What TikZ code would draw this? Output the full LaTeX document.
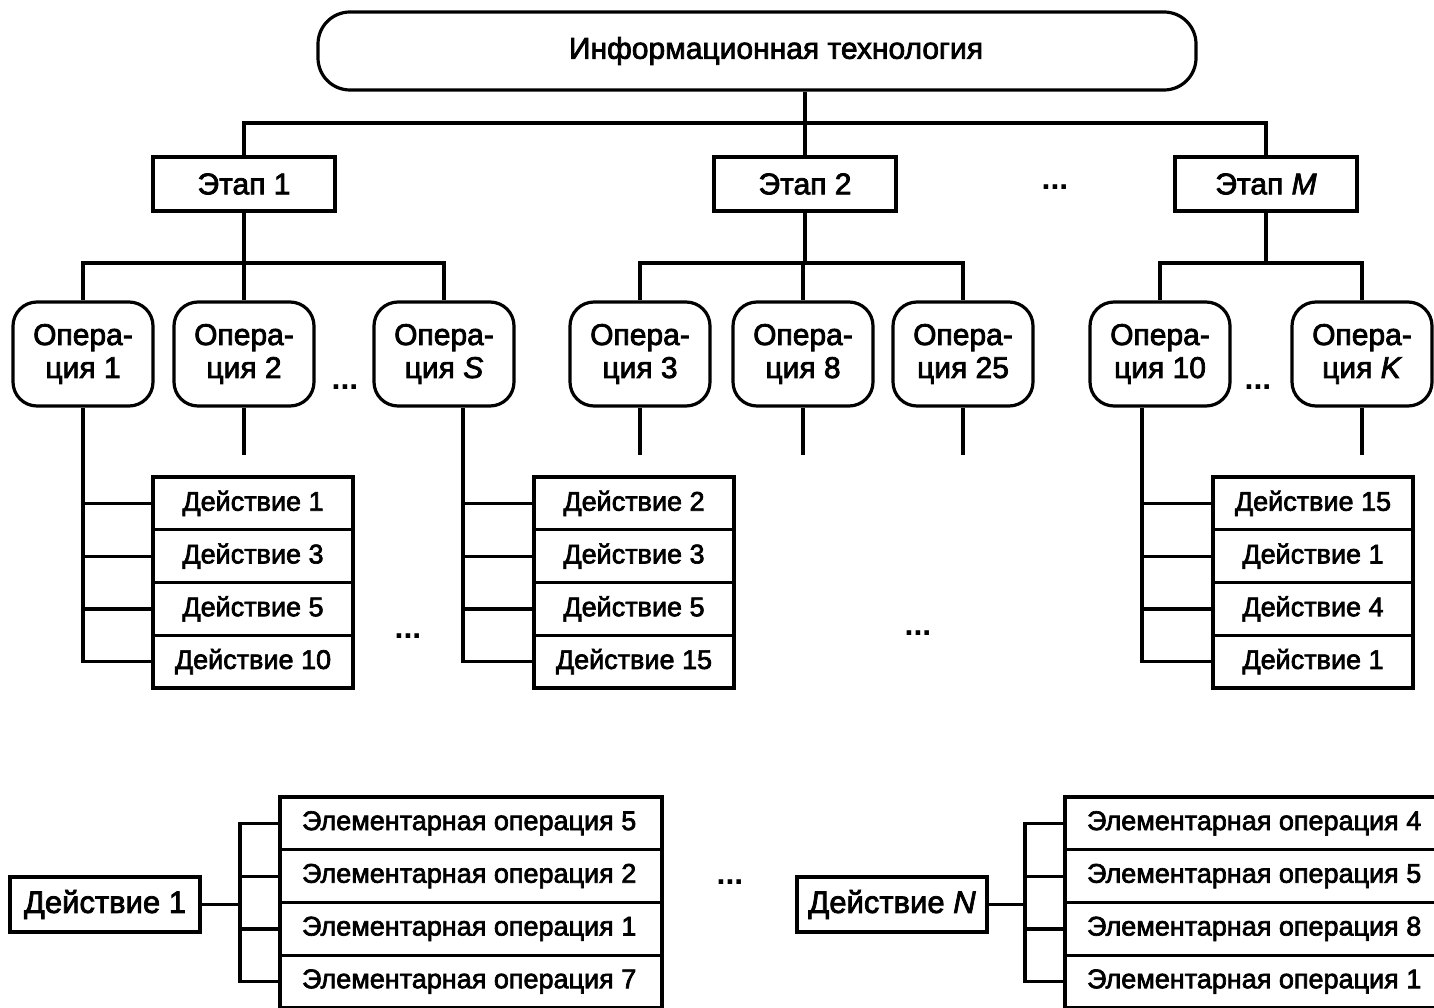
\documentclass[tikz,border=0pt]{standalone}
\usepackage{fontspec}
\setmainfont{Liberation Sans}[BoldFont={Liberation Sans},BoldFeatures={FakeBold=2.5},BoldItalicFont={Liberation Sans Italic},BoldItalicFeatures={FakeBold=2.5}]
\newfontfamily\dotsfont{Liberation Sans Bold}
\begin{document}
\bfseries
\begin{tikzpicture}[x=1pt,y=-1pt,
  conn/.style={line width=3.2pt},
  topbox/.style={draw,line width=3.2pt,rounded corners=32pt,minimum width=878pt,minimum height=78pt,inner sep=0pt,font=\fontsize{30}{33}\selectfont},
  stagebox/.style={draw,line width=3.2pt,minimum width=182pt,minimum height=54pt,inner sep=0pt,font=\fontsize{30}{33}\selectfont},
  opbox/.style={draw,line width=3.2pt,rounded corners=24pt,minimum width=140pt,minimum height=104pt,inner sep=0pt,align=center,font=\fontsize{30}{33}\selectfont},
  actbox/.style={draw,line width=3.2pt,minimum width=200pt,minimum height=52.75pt,inner sep=0pt,font=\fontsize{27}{30}\selectfont},
  actbig/.style={draw,line width=3.2pt,minimum width=190pt,minimum height=55pt,inner sep=0pt,font=\fontsize{31}{34}\selectfont},
  elbox/.style={draw,line width=3.2pt,minimum height=52.75pt,inner sep=0pt,font=\fontsize{27}{30}\selectfont},
  dotsnode/.style={inner sep=0pt,font=\dotsfont\fontsize{32}{32}\selectfont}
]
\useasboundingbox (0,0) rectangle (1434,1008);

% top
\node[topbox] (it) at (757,51) {\hspace*{38pt}Информационная технология};
\node[stagebox] (s1) at (244,184) {Этап 1};
\node[stagebox] (s2) at (805,184) {Этап 2};
\node[stagebox] (sM) at (1266,184) {Этап \textit{M}};
\node[dotsnode] (dM) at (1055,187) {...};

\coordinate (busT) at (0,123);
\draw[conn] (s2.north |- it.south) -- (s2.north);
\draw[conn] (s1.north) -- (s1.north |- busT) -- (sM.north |- busT) -- (sM.north);

% operations
\node[opbox] (o1) at (83,354) {Опера-\\ция 1};
\node[opbox] (o2) at (244,354) {Опера-\\ция 2};
\node[opbox] (oS) at (444,354) {Опера-\\ция \textit{S}};
\node[opbox] (o3) at (640,354) {Опера-\\ция 3};
\node[opbox] (o8) at (803,354) {Опера-\\ция 8};
\node[opbox] (o25) at (963,354) {Опера-\\ция 25};
\node[opbox] (o10) at (1160,354) {Опера-\\ция 10};
\node[opbox] (oK) at (1362,354) {Опера-\\ция \textit{K}};
\node[dotsnode] (dS) at (345,387) {...};
\node[dotsnode] (dK) at (1258,387) {...};

\coordinate (busO) at (0,263);
\draw[conn] (s1.south) -- (s1.south |- busO);
\draw[conn] (o1.north) -- (o1.north |- busO) -- (oS.north |- busO) -- (oS.north);
\draw[conn] (o2.north) -- (o2.north |- busO);
\draw[conn] (s2.south) -- (s2.south |- busO);
\draw[conn] (o3.north) -- (o3.north |- busO) -- (o25.north |- busO) -- (o25.north);
\draw[conn] (o8.north) -- (o8.north |- busO);
\draw[conn] (sM.south) -- (sM.south |- busO);
\draw[conn] (o10.north) -- (o10.north |- busO) -- (oK.north |- busO) -- (oK.north);

% stubs
\coordinate (e2) at ([yshift=-47pt]o2.south);
\coordinate (e3) at ([yshift=-47pt]o3.south);
\coordinate (e8) at ([yshift=-47pt]o8.south);
\coordinate (e25) at ([yshift=-47pt]o25.south);
\coordinate (eK) at ([yshift=-47pt]oK.south);
\draw[conn] (o2.south) -- (e2);
\draw[conn] (o3.south) -- (e3);
\draw[conn] (o8.south) -- (e8);
\draw[conn] (o25.south) -- (e25);
\draw[conn] (oK.south) -- (eK);

% action lists
\node[actbox] (a11) at (253,503.4) {Действие 1};
\node[actbox] (a12) at (253,556.1) {Действие 3};
\node[actbox] (a13) at (253,608.9) {Действие 5};
\node[actbox] (a14) at (253,661.6) {Действие 10};
\node[actbox] (a21) at (634,503.4) {Действие 2};
\node[actbox] (a22) at (634,556.1) {Действие 3};
\node[actbox] (a23) at (634,608.9) {Действие 5};
\node[actbox] (a24) at (634,661.6) {Действие 15};
\node[actbox] (a31) at (1313,503.4) {Действие 15};
\node[actbox] (a32) at (1313,556.1) {Действие 1};
\node[actbox] (a33) at (1313,608.9) {Действие 4};
\node[actbox] (a34) at (1313,661.6) {Действие 1};
\node[dotsnode] (dA1) at (408,636) {...};
\node[dotsnode] (dA2) at (918,633) {...};

\coordinate (t1) at (o1.south);
\coordinate (tS) at ([xshift=19pt]oS.south);
\coordinate (t10) at ([xshift=-18pt]o10.south);
\draw[conn] (t1) -- (t1 |- a14.west) -- (a14.west);
\draw[conn] (t1 |- a11.west) -- (a11.west);
\draw[conn] (t1 |- a12.west) -- (a12.west);
\draw[conn] (t1 |- a13.west) -- (a13.west);
\draw[conn] (tS) -- (tS |- a24.west) -- (a24.west);
\draw[conn] (tS |- a21.west) -- (a21.west);
\draw[conn] (tS |- a22.west) -- (a22.west);
\draw[conn] (tS |- a23.west) -- (a23.west);
\draw[conn] (t10) -- (t10 |- a34.west) -- (a34.west);
\draw[conn] (t10 |- a31.west) -- (a31.west);
\draw[conn] (t10 |- a32.west) -- (a32.west);
\draw[conn] (t10 |- a33.west) -- (a33.west);

% bottom: elementary operations
\node[actbig] (d1) at (105,904.5) {Действие 1};
\node[elbox,minimum width=382pt] (l11) at (471,823.4) {\makebox[338pt][l]{Элементарная операция 5}};
\node[elbox,minimum width=382pt] (l12) at (471,876.1) {\makebox[338pt][l]{Элементарная операция 2}};
\node[elbox,minimum width=382pt] (l13) at (471,928.9) {\makebox[338pt][l]{Элементарная операция 1}};
\node[elbox,minimum width=382pt] (l14) at (471,981.6) {\makebox[338pt][l]{Элементарная операция 7}};
\node[dotsnode] (dB) at (730,882) {...};
\node[actbig] (dN) at (892,904.5) {Действие \textit{N}};
\node[elbox,minimum width=382pt] (l21) at (1256,823.4) {\makebox[338pt][l]{Элементарная операция 4}};
\node[elbox,minimum width=382pt] (l22) at (1256,876.1) {\makebox[338pt][l]{Элементарная операция 5}};
\node[elbox,minimum width=382pt] (l23) at (1256,928.9) {\makebox[338pt][l]{Элементарная операция 8}};
\node[elbox,minimum width=382pt] (l24) at (1256,981.6) {\makebox[338pt][l]{Элементарная операция 1}};

\coordinate (tb1) at (240,0);
\coordinate (tb2) at (1025,0);
\draw[conn] (d1.east) -- (d1.east -| tb1);
\draw[conn] (l11.west) -- (l11.west -| tb1) -- (l14.west -| tb1) -- (l14.west);
\draw[conn] (l12.west -| tb1) -- (l12.west);
\draw[conn] (l13.west -| tb1) -- (l13.west);
\draw[conn] (dN.east) -- (dN.east -| tb2);
\draw[conn] (l21.west) -- (l21.west -| tb2) -- (l24.west -| tb2) -- (l24.west);
\draw[conn] (l22.west -| tb2) -- (l22.west);
\draw[conn] (l23.west -| tb2) -- (l23.west);
\end{tikzpicture}
\end{document}
